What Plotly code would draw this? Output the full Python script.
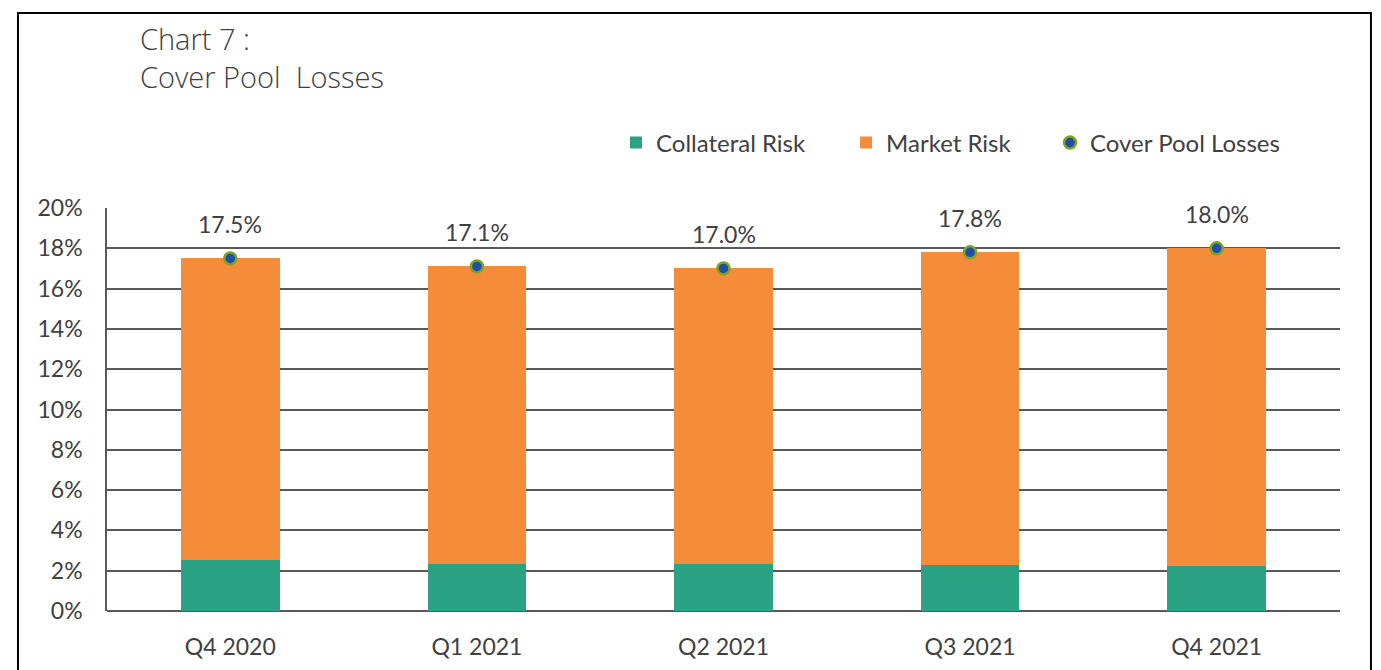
import plotly.graph_objects as go

quarters = ['Q4 2020', 'Q1 2021', 'Q2 2021', 'Q3 2021', 'Q4 2021']
collateral_risk = [2.53, 2.35, 2.35, 2.28, 2.23]
market_risk = [14.97, 14.75, 14.65, 15.52, 15.77]
cover_pool_losses = [17.5, 17.1, 17.0, 17.8, 18.0]

TEXT = '#404040'
FONT = 'Lato'

fig = go.Figure()
fig.add_trace(go.Bar(
    x=quarters, y=collateral_risk, name='Collateral Risk', legend='legend',
    showlegend=True,
    marker=dict(color='#2aa283', line=dict(width=0)),
))
fig.add_trace(go.Bar(
    x=quarters, y=market_risk, name='Market Risk', legend='legend2',
    showlegend=True,
    marker=dict(color='#f58c3a', line=dict(width=0)),
))
fig.add_trace(go.Scatter(
    x=quarters, y=cover_pool_losses, name='Cover Pool Losses', mode='markers',
    legend='legend3', showlegend=True,
    marker=dict(color='#1f4fa8', size=12, line=dict(color='#7fa320', width=2.5)),
))

# data labels above the markers
for q, v in zip(quarters, cover_pool_losses):
    fig.add_annotation(x=q, y=v, text=f'{v:.1f}%', showarrow=False, yshift=34,
                       font=dict(family=FONT, size=23, color=TEXT))

# title (two lines)
fig.add_annotation(xref='paper', yref='paper', x=0.0251, y=1.3734,
                   xanchor='left', yanchor='middle', align='left',
                   text='Chart 7 :<br>Cover Pool  Losses', showarrow=False,
                   font=dict(family='Open Sans', size=29, color=TEXT, weight=300))

# outer frame
fig.add_shape(type='rect', xref='paper', yref='paper',
              x0=-0.0722, x1=1.0251, y0=-0.3, y1=1.4839,
              line=dict(color='black', width=2))

legend_font = dict(family=FONT, size=24, color=TEXT)
legend_common = dict(orientation='h', y=1.1613, xanchor='left', yanchor='middle',
                     font=legend_font, bgcolor='rgba(0,0,0,0)')

# the page body adds an 8px offset, so the figure is 8px smaller and shifted
fig.update_layout(
    width=1373, height=662,
    margin=dict(l=99, r=41, t=200, b=59),
    paper_bgcolor='white', plot_bgcolor='white',
    barmode='stack', bargap=0.6, showlegend=True,
    font=dict(family=FONT, color=TEXT),
    legend=dict(x=0.4128, **legend_common),
    legend2=dict(x=0.5994, **legend_common),
    legend3=dict(x=0.7648, **legend_common),
    xaxis=dict(showgrid=False, ticks='', ticklabelstandoff=20, automargin=False,
               tickfont=dict(size=23, color=TEXT), showline=False),
    yaxis=dict(range=[0, 20], dtick=2, ticksuffix='%',
               showgrid=True, gridcolor='#595959', gridwidth=1.5,
               showline=True, linecolor='#595959', linewidth=1.5,
               zeroline=True, zerolinecolor='#595959', zerolinewidth=1.5,
               ticklabelstandoff=18, tickfont=dict(size=23, color=TEXT)),
)

fig.write_html('out.html')
